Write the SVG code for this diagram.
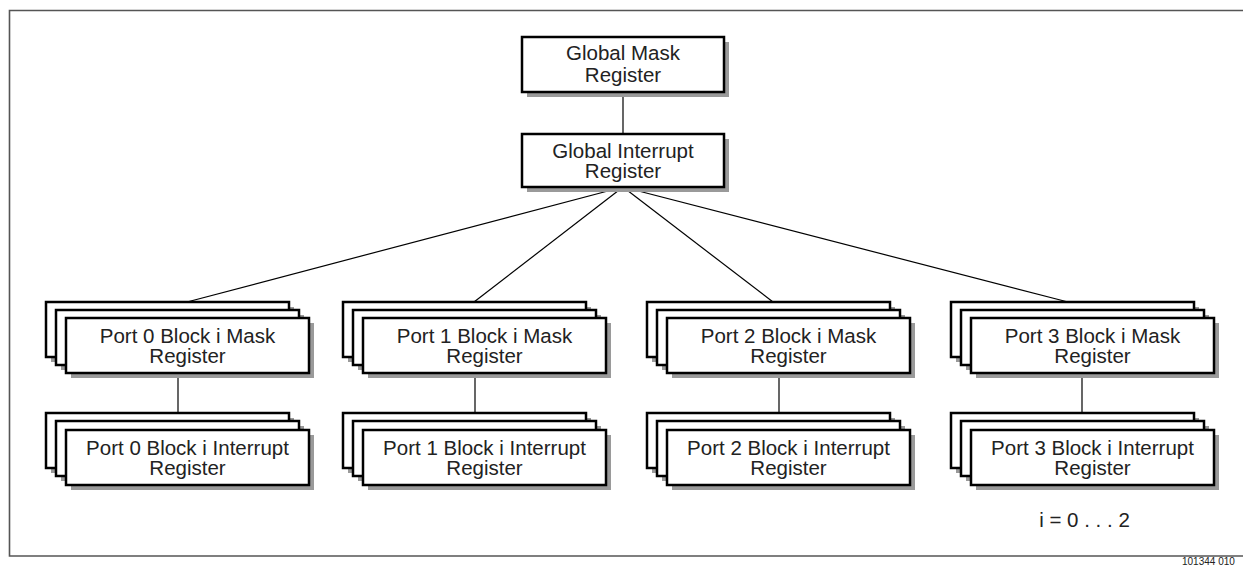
<svg xmlns="http://www.w3.org/2000/svg" width="1243" height="568" viewBox="0 0 1243 568">
<style>
.box{fill:#fff;stroke:#000;stroke-width:2.5}
.sh{fill:#9a9a9a}
.t{font-family:"Liberation Sans",Arial,sans-serif;font-size:20.5px;fill:#222;text-anchor:middle}
.c{stroke:#000;stroke-width:1.2;fill:none}
.frame{stroke:#555;stroke-width:1.6;fill:none}
</style>
<defs>
<g id="stackM">
<rect class="sh" x="5" y="5" width="243" height="55"/>
<rect class="box" x="0" y="0" width="243" height="55"/>
<rect class="sh" x="15" y="13" width="243" height="55"/>
<rect class="box" x="10" y="8" width="243" height="55"/>
<rect class="sh" x="25" y="21" width="243" height="55"/>
<rect class="box" x="20" y="16" width="243" height="55"/>
</g>
<g id="stackI">
<rect class="sh" x="5" y="5" width="243" height="55"/>
<rect class="box" x="0" y="0" width="243" height="55"/>
<rect class="sh" x="15" y="13" width="243" height="55"/>
<rect class="box" x="10" y="8" width="243" height="55"/>
<rect class="sh" x="25" y="22" width="243" height="55"/>
<rect class="box" x="20" y="17" width="243" height="55"/>
</g>
</defs>
<rect width="1243" height="568" fill="#fff"/>
<path class="frame" d="M1243,10.5 H9.5 V556 H1243"/>
<g id="connectors">
<line class="c" x1="623" y1="92" x2="623" y2="134"/>
<line class="c" x1="623" y1="187" x2="187" y2="302"/>
<line class="c" x1="623" y1="187" x2="474" y2="302"/>
<line class="c" x1="623" y1="187" x2="773" y2="302"/>
<line class="c" x1="623" y1="187" x2="1068" y2="302"/>
<line class="c" x1="178" y1="373" x2="178" y2="413"/>
<line class="c" x1="475" y1="373" x2="475" y2="413"/>
<line class="c" x1="779" y1="373" x2="779" y2="413"/>
<line class="c" x1="1082" y1="373" x2="1082" y2="413"/>
</g>
<g id="globalMask">
<rect class="sh" x="527" y="42" width="202" height="55"/>
<rect class="box" x="522" y="37" width="202" height="55"/>
<text class="t" x="623" y="60">Global Mask<tspan x="623" y="82">Register</tspan></text>
</g>
<g id="globalInterrupt">
<rect class="sh" x="527" y="139" width="202" height="53"/>
<rect class="box" x="522" y="134" width="202" height="53"/>
<text class="t" x="623" y="158">Global Interrupt<tspan x="623" y="178">Register</tspan></text>
</g>
<g id="port0Mask">
<use href="#stackM" x="46" y="302"/>
<text class="t" x="187.5" y="343">Port 0 Block i Mask<tspan x="187.5" y="363">Register</tspan></text>
</g>
<g id="port1Mask">
<use href="#stackM" x="343" y="302"/>
<text class="t" x="484.5" y="343">Port 1 Block i Mask<tspan x="484.5" y="363">Register</tspan></text>
</g>
<g id="port2Mask">
<use href="#stackM" x="647" y="302"/>
<text class="t" x="788.5" y="343">Port 2 Block i Mask<tspan x="788.5" y="363">Register</tspan></text>
</g>
<g id="port3Mask">
<use href="#stackM" x="951" y="302"/>
<text class="t" x="1092.5" y="343">Port 3 Block i Mask<tspan x="1092.5" y="363">Register</tspan></text>
</g>
<g id="port0Int">
<use href="#stackI" x="46" y="413"/>
<text class="t" x="187.5" y="455">Port 0 Block i Interrupt<tspan x="187.5" y="475">Register</tspan></text>
</g>
<g id="port1Int">
<use href="#stackI" x="343" y="413"/>
<text class="t" x="484.5" y="455">Port 1 Block i Interrupt<tspan x="484.5" y="475">Register</tspan></text>
</g>
<g id="port2Int">
<use href="#stackI" x="647" y="413"/>
<text class="t" x="788.5" y="455">Port 2 Block i Interrupt<tspan x="788.5" y="475">Register</tspan></text>
</g>
<g id="port3Int">
<use href="#stackI" x="951" y="413"/>
<text class="t" x="1092.5" y="455">Port 3 Block i Interrupt<tspan x="1092.5" y="475">Register</tspan></text>
</g>
<text class="t" x="1084.5" y="527">i = 0 . . . 2</text>
<text x="1182" y="565" style="font-family:'Liberation Sans',Arial,sans-serif;font-size:10px;fill:#222">101344 010</text>
</svg>
